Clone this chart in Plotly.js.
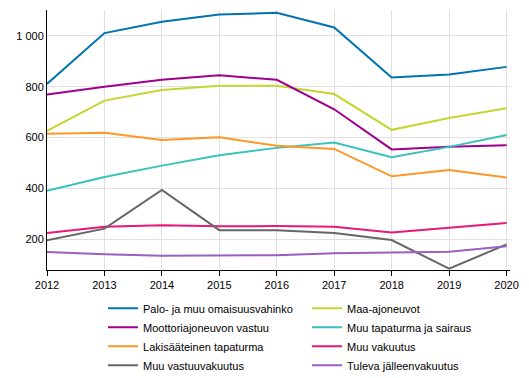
<!DOCTYPE html>
<html>
<head>
<meta charset="utf-8">
<script src="https://cdn.plot.ly/plotly-3.0.1.min.js"></script>
<style>html,body{margin:0;padding:0;background:#fff;}#chart{width:529px;height:378px;}</style>
</head>
<body>
<div id="chart"></div>
<script>
const years = [2012, 2013, 2014, 2015, 2016, 2017, 2018, 2019, 2020];

const palo = [811, 1011, 1056, 1084, 1091, 1033, 836, 848, 878];
const maa = [626, 745, 787, 804, 804, 771, 630, 677, 715];
const moottori = [769, 800, 827, 845, 827, 711, 553, 563, 569];
const muuTapaturma = [390, 444, 489, 530, 559, 580, 522, 563, 610];
const laki = [615, 619, 590, 601, 567, 555, 447, 472, 442];
const muuVakuutus = [224, 248, 254, 250, 251, 248, 226, 245, 263];
const muuVastuu = [195, 241, 393, 235, 235, 224, 196, 83, 179];
const tuleva = [149, 140, 134, 134, 136, 144, 148, 150, 172];

const names = ["Palo- ja muu omaisuusvahinko", "Maa-ajoneuvot", "Moottoriajoneuvon vastuu", "Muu tapaturma ja sairaus",
  "Lakisääteinen tapaturma", "Muu vakuutus", "Muu vastuuvakuutus", "Tuleva jälleenvakuutus"];
const series = [palo, maa, moottori, muuTapaturma, laki, muuVakuutus, muuVastuu, tuleva];
const colors = ["#0073b0", "#c4d630", "#a0008c", "#38c3bd", "#ff9626", "#e8177a", "#666666", "#9b5ec2"];

const traces = series.map((s, i) => ({
  x: years, y: s, name: names[i], type: 'scatter', mode: 'lines',
  line: {color: colors[i], width: 2}
}));

const layout = {
  width: 529, height: 378,
  margin: {l: 47, r: 19, t: 10, b: 108},
  paper_bgcolor: '#fff', plot_bgcolor: '#fff',
  separators: ', ',
  font: {family: 'Arial, "Liberation Sans", sans-serif', size: 11, color: '#000'},
  showlegend: true,
  legend: {
    orientation: 'h', x: 0.121, xanchor: 'left',
    yref: 'container', y: 0.223, yanchor: 'top',
    entrywidth: 159, entrywidthmode: 'pixels',
    font: {size: 11}, tracegroupgap: 0
  },
  xaxis: {
    range: [2012, 2020.06], tickvals: years, ticktext: years.map(String),
    showgrid: true, gridcolor: '#e0e0e0', gridwidth: 1,
    showline: true, linecolor: '#000', linewidth: 1,
    ticks: 'outside', ticklen: 5, tickcolor: '#000', zeroline: false
  },
  yaxis: {
    range: [78, 1102], tickvals: [200, 400, 600, 800, 1000],
    showgrid: true, gridcolor: '#e0e0e0', gridwidth: 1,
    showline: true, linecolor: '#000', linewidth: 1,
    ticks: '', zeroline: false, tickformat: ',d'
  }
};

Plotly.newPlot('chart', traces, layout, {displayModeBar: false, staticPlot: true});
</script>
</body>
</html>
